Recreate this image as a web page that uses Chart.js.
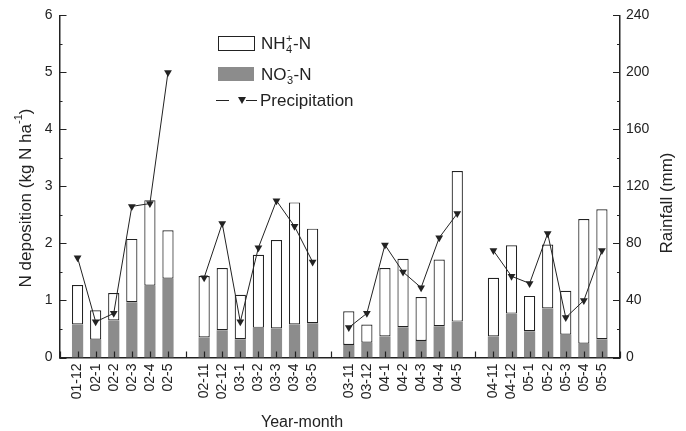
<!DOCTYPE html>
<html>
<head>
<meta charset="utf-8">
<script src="https://cdn.jsdelivr.net/npm/chart.js@4.4.1/dist/chart.umd.min.js"></script>
<style>
  html, body { margin: 0; padding: 0; background: #ffffff; }
  #wrap { width: 686px; height: 431px; }
</style>
</head>
<body>
<div id="wrap"><canvas id="depChart" width="686" height="431"></canvas></div>
<script>
// Year-month slots; empty strings are the gaps between the winter seasons
const months = ['', '01-12', '02-1', '02-2', '02-3', '02-4', '02-5', '',
  '02-11', '02-12', '03-1', '03-2', '03-3', '03-4', '03-5', '',
  '03-11', '03-12', '04-1', '04-2', '04-3', '04-4', '04-5', '',
  '04-11', '04-12', '05-1', '05-2', '05-3', '05-4', '05-5', ''];

// NO3- -N deposition (kg N/ha), bottom of each bar
const no3 = [null, 0.58, 0.31, 0.65, 0.97, 1.26, 1.38, null,
  0.35, 0.48, 0.32, 0.52, 0.51, 0.58, 0.60, null,
  0.22, 0.26, 0.37, 0.53, 0.29, 0.55, 0.63, null,
  0.37, 0.77, 0.46, 0.86, 0.40, 0.24, 0.32, null];

// NH4+ -N deposition (kg N/ha), stacked on top
const nh4 = [null, 0.69, 0.52, 0.48, 1.11, 1.50, 0.85, null,
  1.08, 1.09, 0.78, 1.28, 1.55, 2.14, 1.66, null,
  0.59, 0.32, 1.20, 1.20, 0.77, 1.17, 2.64, null,
  1.03, 1.20, 0.62, 1.12, 0.77, 2.19, 2.28, null];

// Rainfall (mm), right axis
const rainfall = [null, 70, 25, 31, 106, 108, 200, null,
  56, 94, 25, 77, 110, 92, 67, null,
  21, 31, 79, 60, 49, 84, 101, null,
  75, 57, 52, 87, 28, 40, 75, null];

const leftTicks = [0, 1, 2, 3, 4, 5, 6];
const rightTicks = [0, 40, 80, 120, 160, 200, 240];

const FONT = '"Liberation Sans", Arial, Helvetica, sans-serif';
const INK = '#222222';
const GREY = '#8c8c8c';

// Inward ticks, axis titles and the legend are drawn by hand
const decorPlugin = {
    id: 'decor',
    afterDraw(chart) {
        const ctx = chart.ctx;
        const area = chart.chartArea;
        const xs = chart.scales.x, ys = chart.scales.y, ys2 = chart.scales.y2;

        ctx.save();
        ctx.strokeStyle = INK;
        ctx.lineWidth = 1.2;
        ctx.beginPath();
        // x ticks, pointing up
        months.forEach((m, i) => {
            const px = Math.round(xs.getPixelForValue(i)) + 0.5;
            ctx.moveTo(px, area.bottom);
            ctx.lineTo(px, area.bottom - 6);
        });
        // left axis major + minor
        for (let v = 0; v <= 6; v += 0.5) {
            const py = Math.round(ys.getPixelForValue(v)) + 0.5;
            ctx.moveTo(area.left, py);
            ctx.lineTo(area.left + (v % 1 === 0 ? 7 : 3), py);
        }
        // right axis major + minor
        for (let v = 0; v <= 240; v += 20) {
            const py = Math.round(ys2.getPixelForValue(v)) + 0.5;
            ctx.moveTo(area.right, py);
            ctx.lineTo(area.right - (v % 40 === 0 ? 7 : 3), py);
        }
        ctx.stroke();

        ctx.fillStyle = INK;

        // x axis title
        ctx.font = '16px ' + FONT;
        ctx.textAlign = 'center';
        ctx.textBaseline = 'middle';
        ctx.fillText('Year-month', 302, 423);

        // left axis title with superscript
        ctx.save();
        ctx.translate(26, 198);
        ctx.rotate(-Math.PI / 2);
        ctx.textBaseline = 'middle';
        ctx.textAlign = 'left';
        ctx.font = '17px ' + FONT;
        const p1 = 'N deposition (kg N ha';
        const w1 = ctx.measureText(p1).width;
        ctx.font = '11px ' + FONT;
        const wSup = ctx.measureText('-1').width;
        ctx.font = '17px ' + FONT;
        const w3 = ctx.measureText(')').width;
        let tx = -(w1 + wSup + w3) / 2;
        ctx.fillText(p1, tx, 0);
        tx += w1;
        ctx.font = '11px ' + FONT;
        ctx.fillText('-1', tx, -7);
        tx += wSup;
        ctx.font = '17px ' + FONT;
        ctx.fillText(')', tx, 0);
        ctx.restore();

        // right axis title
        ctx.save();
        ctx.translate(667, 203);
        ctx.rotate(-Math.PI / 2);
        ctx.font = '17px ' + FONT;
        ctx.textAlign = 'center';
        ctx.textBaseline = 'middle';
        ctx.fillText('Rainfall (mm)', 0, 0);
        ctx.restore();

        // legend
        ctx.textAlign = 'left';
        ctx.textBaseline = 'alphabetic';
        ctx.lineWidth = 1;
        ctx.fillStyle = '#ffffff';
        ctx.fillRect(218.5, 36.5, 36, 14);
        ctx.strokeRect(218.5, 36.5, 36, 14);
        ctx.fillStyle = GREY;
        ctx.fillRect(218, 67, 36, 14);

        const chem = (x, base, main, sub, sup, tail) => {
            ctx.fillStyle = INK;
            ctx.font = '17px ' + FONT;
            ctx.fillText(main, x, base);
            x += ctx.measureText(main).width;
            ctx.font = '11px ' + FONT;
            ctx.fillText(sub, x + 0.5, base + 4);
            ctx.fillText(sup, x + 0.5, base - 7);
            x += Math.max(ctx.measureText(sub).width, ctx.measureText(sup).width) + 1;
            ctx.font = '17px ' + FONT;
            ctx.fillText(tail, x, base);
        };
        chem(261, 48.5, 'NH', '4', '+', '-N');
        chem(261, 79.5, 'NO', '3', '-', '-N');

        ctx.strokeStyle = INK;
        ctx.beginPath();
        ctx.moveTo(216, 100.5); ctx.lineTo(229, 100.5);
        ctx.moveTo(246, 100.5); ctx.lineTo(257, 100.5);
        ctx.stroke();
        ctx.beginPath();
        ctx.moveTo(238, 97); ctx.lineTo(246, 97); ctx.lineTo(242, 104);
        ctx.closePath();
        ctx.fillStyle = INK;
        ctx.fill();
        ctx.font = '17px ' + FONT;
        ctx.fillText('Precipitation', 260, 105.5);
        ctx.restore();
    }
};

const ctx = document.getElementById('depChart');

new Chart(ctx, {
    data: {
        labels: months,
        datasets: [
            {
                type: 'line',
                label: 'Precipitation',
                data: rainfall,
                yAxisID: 'y2',
                order: 0,
                borderColor: INK,
                borderWidth: 1,
                spanGaps: false,
                tension: 0,
                pointStyle: 'triangle',
                rotation: 180,
                pointRadius: 4.5,
                pointBackgroundColor: INK,
                pointBorderColor: INK,
                pointBorderWidth: 0
            },
            {
                type: 'bar',
                label: 'NO3-N',
                data: no3,
                yAxisID: 'y',
                order: 1,
                backgroundColor: GREY,
                borderWidth: 0,
                categoryPercentage: 1,
                barPercentage: 0.62
            },
            {
                type: 'bar',
                label: 'NH4-N',
                data: nh4,
                yAxisID: 'y',
                order: 1,
                backgroundColor: '#ffffff',
                borderColor: INK,
                borderWidth: 1.2,
                borderSkipped: false,
                categoryPercentage: 1,
                barPercentage: 0.62
            }
        ]
    },
    options: {
        responsive: false,
        animation: false,
        layout: { padding: { top: 13, left: 0, right: 0, bottom: 0 } },
        plugins: {
            legend: { display: false },
            tooltip: { enabled: false }
        },
        scales: {
            x: {
                type: 'category',
                offset: false,
                stacked: true,
                grid: { display: false, drawTicks: false },
                border: { display: true, color: INK, width: 1.5 },
                ticks: {
                    autoSkip: false,
                    minRotation: 90,
                    maxRotation: 90,
                    padding: 6,
                    color: INK,
                    font: { family: FONT, size: 14 }
                },
                afterFit(s) { s.height = 73.5; }
            },
            y: {
                position: 'left',
                stacked: true,
                min: 0,
                max: 6,
                afterBuildTicks(s) { s.ticks = leftTicks.map(v => ({ value: v })); },
                grid: { display: false, drawTicks: false },
                border: { display: true, color: INK, width: 1.5 },
                ticks: {
                    padding: 7,
                    color: INK,
                    font: { family: FONT, size: 14 }
                },
                afterFit(s) { s.width = 59.5; }
            },
            y2: {
                position: 'right',
                min: 0,
                max: 240,
                afterBuildTicks(s) { s.ticks = rightTicks.map(v => ({ value: v })); },
                grid: { display: false, drawTicks: false },
                border: { display: true, color: INK, width: 1.5 },
                ticks: {
                    padding: 6,
                    color: INK,
                    font: { family: FONT, size: 14 }
                },
                afterFit(s) { s.width = 66; }
            }
        }
    },
    plugins: [decorPlugin]
});
</script>
</body>
</html>
